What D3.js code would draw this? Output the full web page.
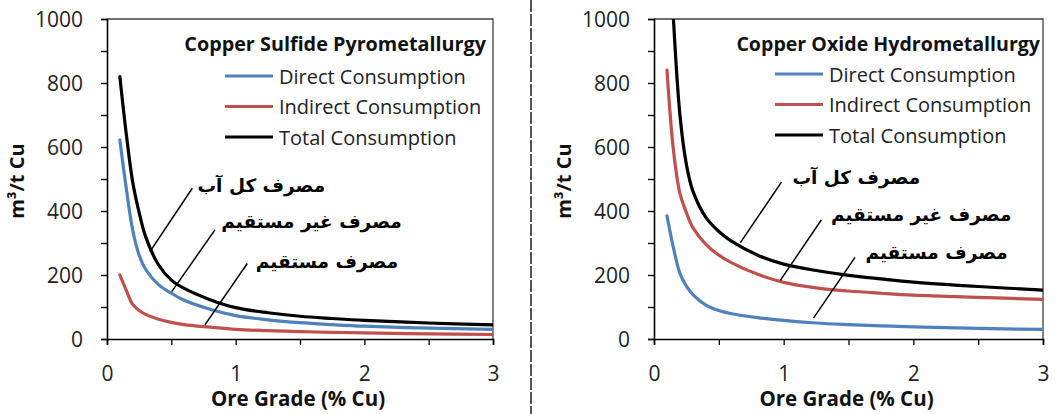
<!DOCTYPE html>
<html><head><meta charset="utf-8">
<script src="https://cdn.jsdelivr.net/npm/d3@7"></script>
<style>
html,body{margin:0;padding:0;background:#fff;}
svg{display:block;}
</style></head>
<body><svg id="chart" width="1057" height="414"></svg>
<script>
// ---------- data ----------
const oreGrade = [0.1,0.15,0.2,0.25,0.3,0.4,0.5,0.6,0.8,1.0,1.25,1.5,1.75,2.0,2.5,3.0];
const sulfideDirect   = [622,470,340,262,218,170,143,121,93,73,60,51,45,40,34,30];
const sulfideIndirect = [200,152,108,89,77,62,52,45,37,30,26,23,21,19,16,14];
const sulfideTotal    = [820,640,490,395,320,232,184,158,123,98,82,71,64,58,50,44];
const oxideDirect     = [385,285,205,165,139,106,89,79,67,58,50,45,41,38,33,30];
const oxideIndirect   = [840,590,455,395,348,296,262,238,202,177,160,150,143,137,130,124];
const oxideTotal      = [1450,1000,700,545,462,380,336,305,262,234,214,199,188,178,164,153];
const seriesNames = ["Direct Consumption","Indirect Consumption","Total Consumption"];
const seriesColors = ["#4F81BD","#C0504D","#000000"];
const panelTitles = ["Copper Sulfide  Pyrometallurgy","Copper Oxide Hydrometallurgy"];
const yTickLabels = [0,200,400,600,800,1000];
const yMinorTicks = [0,100,200,300,400,500,600,700,800,900,1000];
const xTickLabels = [0,1,2,3];
const xMinorTicks = [0,0.5,1,1.5,2,2.5,3];
const annotationLabels = ["مصرف کل آب","مصرف غیر مستقیم","مصرف مستقیم"];
// annotation text anchors and leader lines in data units [x, y]
const sulfideLabelPos = [[1.2,481],[1.59,366],[1.71,241]];
const sulfideLeaders  = [[[0.663,471],[0.334,273]],[[0.839,341],[0.503,148]],[[1.09,236],[0.761,44]]];
const oxideLabelPos   = [[1.56,506],[2.06,388],[2.18,269]];
const oxideLeaders    = [[[0.983,490],[0.666,301]],[[1.29,372],[0.974,183]],[[1.55,255],[1.23,65]]];

const svg = d3.select("#chart");
const FONT = "'Open Sans', 'Liberation Sans', sans-serif";

function panel(cfg){
  const x = d3.scaleLinear().domain([0,3]).range([cfg.x0, cfg.x1]);
  const y = d3.scaleLinear().domain([0,1000]).range([339, 19]);
  const g = svg.append("g");
  const clipId = "clip" + cfg.id;
  svg.append("clipPath").attr("id", clipId).append("rect")
    .attr("x", cfg.x0).attr("y", 19).attr("width", cfg.x1 - cfg.x0).attr("height", 320);

  // frame top/right
  g.append("path").attr("d", `M${cfg.x0},${y(1000)}H${x(3)}V${y(0)}`)
    .attr("fill","none").attr("stroke","#404040").attr("stroke-width",1.3);

  // y axis
  const ya = g.append("g").attr("transform", `translate(${cfg.x0},0)`)
    .call(d3.axisLeft(y).tickValues(yMinorTicks).tickSize(6).tickFormat(""));
  ya.select(".domain").attr("stroke","#000").attr("stroke-width",1.6);
  ya.selectAll(".tick line").attr("stroke","#000").attr("stroke-width",1.3);
  const yl = g.append("g").attr("transform", `translate(${cfg.x0 - 24},0)`)
    .call(d3.axisLeft(y).tickValues(yTickLabels).tickSize(0).tickPadding(0).tickFormat(d3.format("d")));
  yl.select(".domain").remove();
  yl.selectAll("text").attr("font-family",FONT).attr("font-size",21).attr("fill","#222").attr("dy","0.36em");

  // x axis
  const xa = g.append("g").attr("transform", `translate(0,${y(0)})`)
    .call(d3.axisBottom(x).tickValues(xMinorTicks).tickSize(6).tickFormat(""));
  xa.select(".domain").attr("stroke","#000").attr("stroke-width",1.6);
  xa.selectAll(".tick line").attr("stroke","#000").attr("stroke-width",1.3);
  const xl = g.append("g").attr("transform", `translate(0,${y(0)})`)
    .call(d3.axisBottom(x).tickValues(xTickLabels).tickSize(0).tickPadding(0).tickFormat(d3.format("d")));
  xl.select(".domain").remove();
  xl.selectAll("text").attr("font-family",FONT).attr("font-size",21).attr("fill","#222").attr("dy","1.98em");

  // axis titles
  g.append("text").attr("x", (cfg.x0 + cfg.x1)/2 - 2).attr("y", 406)
    .attr("text-anchor","middle").attr("font-family",FONT).attr("font-weight","bold")
    .attr("font-size",20.5).attr("fill","#111").text("Ore Grade (% Cu)");
  g.append("text").attr("transform", `translate(${cfg.yTitleX},181) rotate(-90)`)
    .attr("text-anchor","middle").attr("font-family",FONT).attr("font-weight","bold")
    .attr("font-size",20).attr("fill","#111").text("m³/t Cu");

  // series
  const line = d3.line().x((d,i)=>x(oreGrade[i])).y(d=>y(d)).curve(d3.curveCatmullRom.alpha(0.5));
  const lg = g.append("g").attr("clip-path", `url(#${clipId})`);
  cfg.series.forEach((s,i)=>{
    lg.append("path").attr("d", line(s)).attr("fill","none")
      .attr("stroke", seriesColors[i]).attr("stroke-width", 3.2)
      .attr("stroke-linejoin","round").attr("stroke-linecap","round");
  });

  // title + legend
  g.append("text").attr("x", cfg.titleRight).attr("y", 51).attr("text-anchor","end")
    .attr("font-family",FONT).attr("font-weight","bold").attr("font-size",cfg.titleSize)
    .attr("fill","#111").text(cfg.title);
  seriesNames.forEach((n,i)=>{
    const ly = cfg.legY + i*30.5;
    g.append("line").attr("x1",cfg.legX).attr("x2",cfg.legX+48).attr("y1",ly).attr("y2",ly)
      .attr("stroke",seriesColors[i]).attr("stroke-width",3.2);
    g.append("text").attr("x",cfg.legX+54).attr("y",ly+7.5).attr("font-family",FONT)
      .attr("font-size",20).attr("fill","#222").text(n);
  });

  // annotations
  annotationLabels.forEach((t,i)=>{
    const p = cfg.labelPos[i];
    g.append("text").attr("x", x(p[0])).attr("y", y(p[1])).attr("dy","0.35em")
      .attr("text-anchor","middle").attr("font-family","'DejaVu Sans', sans-serif")
      .attr("font-weight","bold").attr("font-size",18.5).attr("fill","#000")
      .attr("direction","rtl").text(t);
    const l = cfg.leaders[i];
    g.append("line").attr("x1",x(l[0][0])).attr("y1",y(l[0][1]))
      .attr("x2",x(l[1][0])).attr("y2",y(l[1][1]))
      .attr("stroke","#000").attr("stroke-width",1.5);
  });
}

panel({id:1, x0:107, x1:493, yTitleX:24, title:panelTitles[0], titleRight:486, titleSize:19.8,
  legX:225, legY:76, series:[sulfideDirect,sulfideIndirect,sulfideTotal],
  labelPos:sulfideLabelPos, leaders:sulfideLeaders});
panel({id:2, x0:654, x1:1043, yTitleX:571, title:panelTitles[1], titleRight:1040, titleSize:19.6,
  legX:775, legY:74, series:[oxideDirect,oxideIndirect,oxideTotal],
  labelPos:oxideLabelPos, leaders:oxideLeaders});

// divider
svg.append("line").attr("x1",531).attr("x2",531).attr("y1",0).attr("y2",414)
  .attr("stroke","#555").attr("stroke-width",2).attr("stroke-dasharray","12,2");
</script>
</body></html>
